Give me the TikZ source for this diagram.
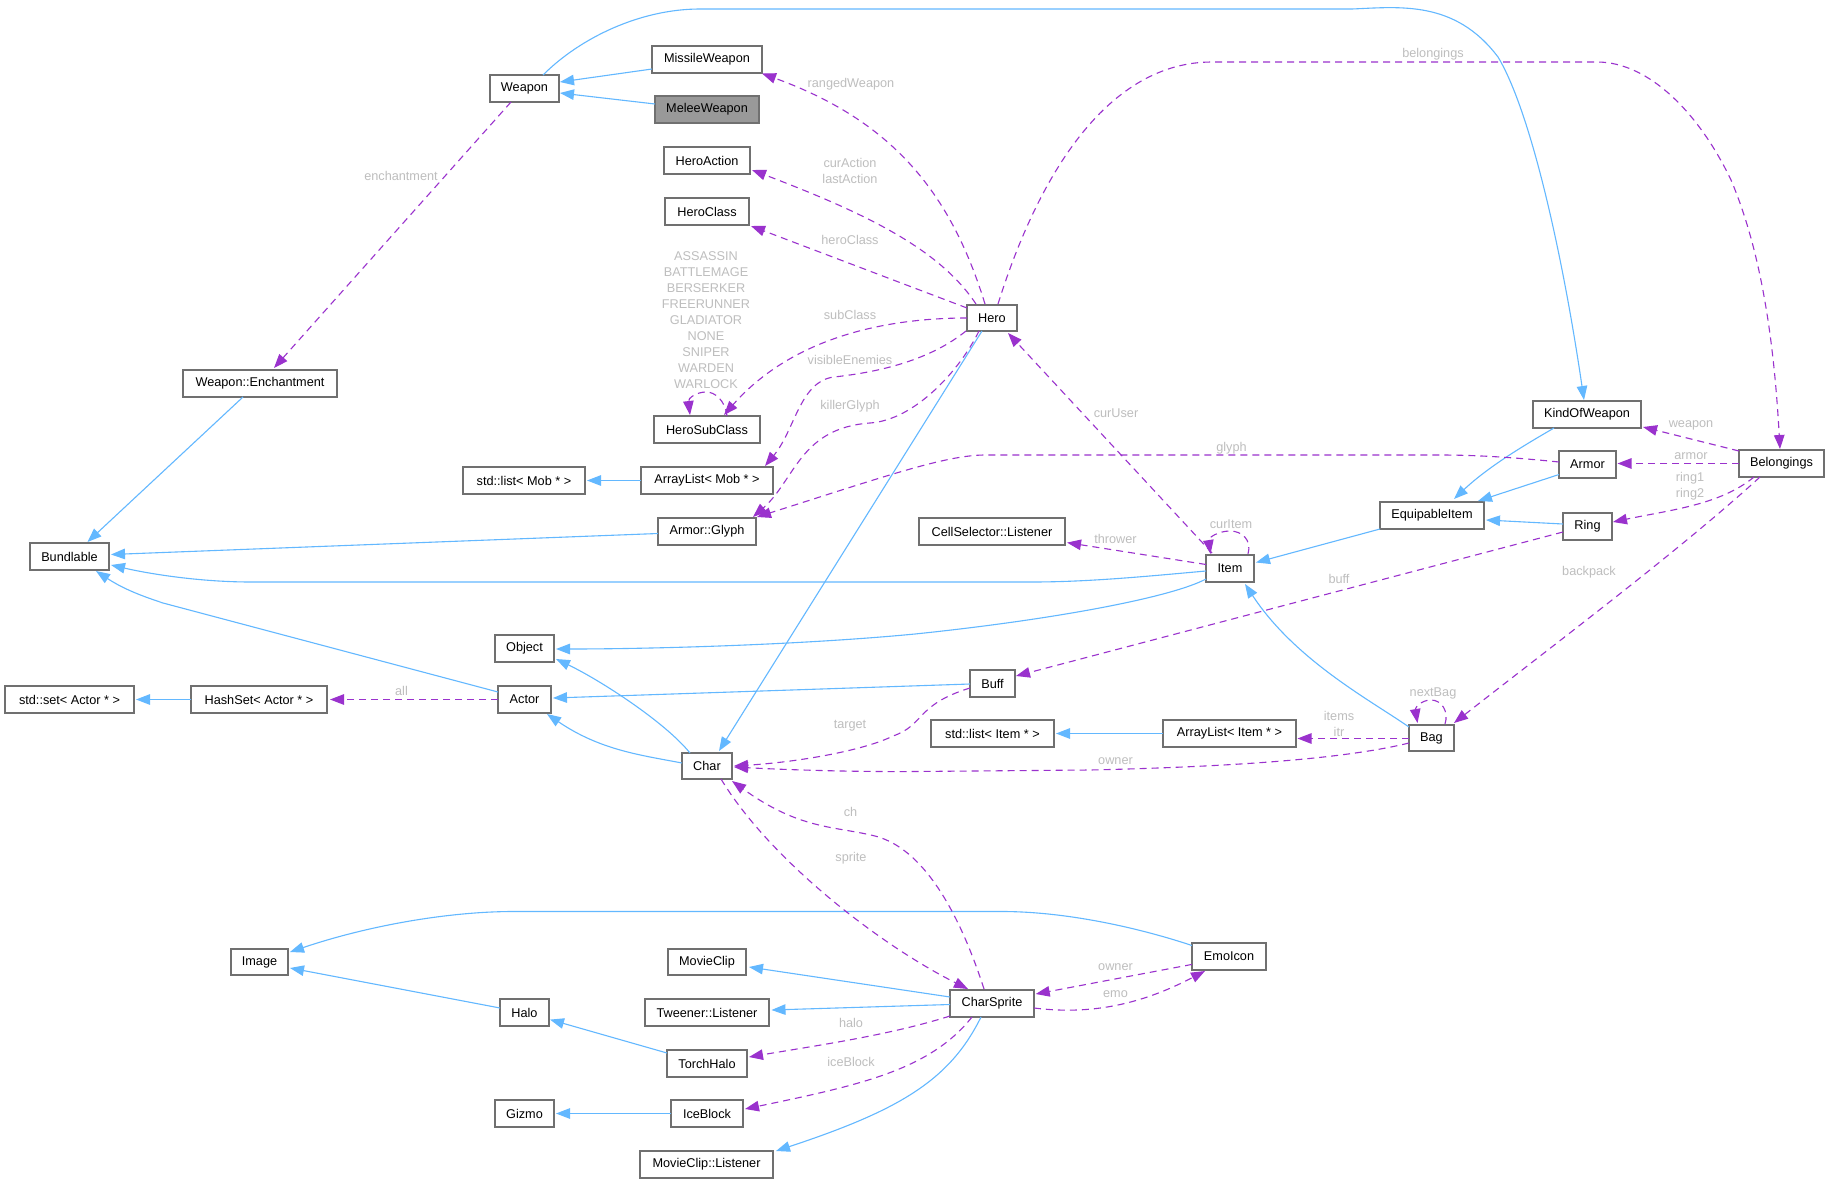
\documentclass[tikz,border=0pt]{standalone}
\usepackage{fontspec}
\setmainfont{Liberation Sans}
\usetikzlibrary{arrows.meta}
\definecolor{inhc}{HTML}{63B8FF}
\definecolor{usec}{HTML}{9A32CD}
\definecolor{edgec}{HTML}{707070}
\definecolor{labc}{HTML}{BEBEBE}
\tikzset{
  box/.style={draw=edgec,line width=1.1pt,fill=white,text=black,inner sep=0pt,outer sep=0pt,font=\fontsize{12.7}{14}\selectfont},
  grayed/.style={fill=black!40},
  inh/.style={draw=inhc,line width=1.1pt,-{Triangle[length=14pt,width=10.5pt]}},
  rel/.style={draw=usec,line width=1.1pt,dash pattern=on 7pt off 5pt,-{Triangle[length=14pt,width=10.5pt,fill=usec]}},
  lab/.style={text=labc,inner sep=0pt,align=center,font=\fontsize{12.7}{16}\selectfont},
}
\newcommand{\cls}[7][]{%
  \pgfmathsetmacro{\cxv}{(#3+#4)/2}\pgfmathsetmacro{\cyv}{(#5+#6)/2}%
  \pgfmathsetmacro{\wv}{#4-#3}\pgfmathsetmacro{\hv}{#6-#5}%
  \node[box,#1,minimum width=\wv pt,minimum height=\hv pt] (#2) at (\cxv,\cyv) {\raisebox{-0.8pt}{#7}};}
\begin{document}
\begin{tikzpicture}[x=1pt,y=-1pt]
\useasboundingbox (0,0) rectangle (1829,1183);
\fill[white] (0,0) rectangle (1829,1183);
% edges are drawn after the nodes are placed, so place nodes first
\cls{weapon}{490}{559}{75}{102}{Weapon}
\cls{missile}{652}{762}{46}{73}{MissileWeapon}
\cls[grayed]{melee}{655}{759}{96}{123}{MeleeWeapon}
\cls{heroaction}{664}{750}{147}{174}{HeroAction}
\cls{heroclass}{665}{749}{198}{225}{HeroClass}
\cls{herosub}{654}{760}{416}{443}{HeroSubClass}
\cls{listmob}{463}{585}{467}{494}{std::list< Mob * >}
\cls{alistmob}{641}{773}{467}{494}{ArrayList< Mob * >}
\cls{glyph}{658}{756}{518}{545}{Armor::Glyph}
\cls{bund}{30}{109}{543}{570}{Bundlable}
\cls{ench}{183}{337}{370}{397}{Weapon::Enchantment}
\cls{hero}{967}{1017}{305}{331}{Hero}
\cls{kow}{1533}{1641}{401}{428}{KindOfWeapon}
\cls{armor}{1559}{1616}{451}{478}{Armor}
\cls{belong}{1739}{1824}{450}{477}{Belongings}
\cls{equip}{1380}{1484}{502}{529}{EquipableItem}
\cls{ring}{1563}{1612}{513}{540}{Ring}
\cls{cell}{919}{1065}{518}{545}{CellSelector::Listener}
\cls{item}{1206}{1254}{555}{582}{Item}
\cls{object}{495}{554}{635}{662}{Object}
\cls{actor}{498}{551}{686}{713}{Actor}
\cls{setactor}{5}{134}{686}{713}{std::set< Actor * >}
\cls{hashset}{191}{327}{686}{713}{HashSet< Actor * >}
\cls{char}{682}{732}{753}{779}{Char}
\cls{image}{231}{288}{949}{975}{Image}
\cls{movieclip}{668}{746}{949}{975}{MovieClip}
\cls{halo}{500}{549}{999}{1026}{Halo}
\cls{tweener}{645}{769}{999}{1026}{Tweener::Listener}
\cls{torch}{667}{747}{1050}{1077}{TorchHalo}
\cls{gizmo}{495}{554}{1100}{1127}{Gizmo}
\cls{ice}{671}{743}{1100}{1127}{IceBlock}
\cls{mcl}{640}{773}{1151}{1178}{MovieClip::Listener}
\cls{buff}{970}{1015}{670}{697}{Buff}
\cls{listitem}{931}{1054}{720}{747}{std::list< Item * >}
\cls{alistitem}{1163}{1296}{720}{747}{ArrayList< Item * >}
\cls{bag}{1409}{1454}{725}{751}{Bag}
\cls{emo}{1192}{1266}{943}{970}{EmoIcon}
\cls{cs}{950}{1034}{990}{1017}{CharSprite}
% inheritance
\draw[inh] ([shift={(53,0)}]weapon.north west) .. controls (580,38) and (640,9) .. (700,9) -- (1352,9) .. controls (1400,7) and (1455,0) .. (1498,57) .. controls (1530,110) and (1562,250) .. ([shift={(51,-1)}]kow.north west);
\draw[inh] ([shift={(0,8)}]melee.north west) -- ([shift={(70,18)}]weapon.north west);
\draw[inh] ([shift={(0,23)}]missile.north west) -- ([shift={(70,7)}]weapon.north west);
\draw[inh] ([shift={(60,27)}]ench.north west) -- ([shift={(57.5,-1)}]bund.north west);
\draw[inh] ([shift={(0,15.5)}]glyph.north west) -- ([shift={(81,11.5)}]bund.north west);
\draw[inh] ([shift={(0,16)}]item.north west) .. controls (1150,576) and (1090,582) .. (1032,582) -- (251,582) .. controls (200,582) and (150,574) .. ([shift={(81,22)}]bund.north west);
\draw[inh] ([shift={(0,6)}]actor.north west) -- (163,603) .. controls (145,597) and (125,590) .. ([shift={(66,28)}]bund.north west);
\draw[inh] ([shift={(0,24)}]item.north west) .. controls (1170,598) and (1050,620) .. (915,634) .. controls (800,645) and (650,649) .. ([shift={(61,14)}]object.north west);
\draw[inh] ([shift={(0,14)}]buff.north west) -- ([shift={(55,12)}]actor.north west);
\draw[inh] ([shift={(8,0)}]char.north west) .. controls (665,722) and (600,680) .. ([shift={(61,24)}]object.north west);
\draw[inh] ([shift={(0,10)}]char.north west) .. controls (640,755) and (600,750) .. ([shift={(49,28)}]actor.north west);
\draw[inh] ([shift={(15,26)}]hero.north west) -- ([shift={(37,-2)}]char.north west);
\draw[inh] ([shift={(0,2)}]bag.north west) .. controls (1370,700) and (1295,660) .. ([shift={(39,29)}]item.north west);
\draw[inh] ([shift={(21,27)}]kow.north west) .. controls (1530,442) and (1490,465) .. ([shift={(74,-3)}]equip.north west);
\draw[inh] ([shift={(0,23.5)}]armor.north west) -- ([shift={(98,-1)}]equip.north west);
\draw[inh] ([shift={(0,11)}]ring.north west) -- ([shift={(106,18)}]equip.north west);
\draw[inh] ([shift={(0,27)}]equip.north west) -- ([shift={(50,7.5)}]item.north west);
\draw[inh] ([shift={(0,13.5)}]alistmob.north west) -- ([shift={(124,13.5)}]listmob.north west);
\draw[inh] ([shift={(0,13.5)}]alistitem.north west) -- ([shift={(125,13.5)}]listitem.north west);
\draw[inh] ([shift={(0,13.5)}]hashset.north west) -- ([shift={(131,13.5)}]setactor.north west);
\draw[inh] ([shift={(0,9)}]halo.north west) -- ([shift={(59,19)}]image.north west);
\draw[inh] ([shift={(0,3)}]torch.north west) -- ([shift={(50,20.6)}]halo.north west);
\draw[inh] ([shift={(0,13.5)}]ice.north west) -- ([shift={(61,13.5)}]gizmo.north west);
\draw[inh] ([shift={(0,2.5)}]emo.north west) .. controls (1130,925) and (1060,911.5) .. (1002,911.5) -- (513.5,911.5) .. controls (450,911.5) and (370,925) .. ([shift={(59,3)}]image.north west);
\draw[inh] ([shift={(0,7)}]cs.north west) -- ([shift={(81,18)}]movieclip.north west);
\draw[inh] ([shift={(0,14.5)}]cs.north west) -- ([shift={(126.5,11)}]tweener.north west);
\draw[inh] ([shift={(31,27)}]cs.north west) .. controls (950,1080) and (900,1110) .. ([shift={(136,0)}]mcl.north west);
% usage
\draw[rel] ([shift={(18,-1)}]hero.north west) .. controls (950,190) and (890,120) .. ([shift={(110,27.5)}]missile.north west);
\draw[rel] ([shift={(9,-1)}]hero.north west) .. controls (940,250) and (870,215) .. ([shift={(88,23)}]heroaction.north west);
\draw[rel] ([shift={(0,3)}]hero.north west) -- ([shift={(86,28)}]heroclass.north west);
\draw[rel] ([shift={(0,13)}]hero.north west) .. controls (880,318) and (790,340) .. ([shift={(70,-1)}]herosub.north west);
\draw[rel] ([shift={(73,0)}]herosub.north west) .. controls (725,400) and (715,392) .. (706,392) .. controls (697,392) and (688,398) .. ([shift={(36,-1)}]herosub.north west);
\draw[rel] ([shift={(-1,26)}]hero.north west) .. controls (930,360) and (880,372) .. (834,377) .. controls (800,381) and (795,430) .. ([shift={(124,-1)}]alistmob.north west);
\draw[rel] ([shift={(12,26)}]hero.north west) .. controls (960,370) and (915,420) .. (870,423) .. controls (800,428) and (795,480) .. ([shift={(95,-1)}]glyph.north west);
\draw[rel] ([shift={(0,11)}]armor.north west) .. controls (1520,458) and (1480,455) .. (1440,455) -- (985,455) .. controls (945,455) and (880,478) .. ([shift={(99,-1)}]glyph.north west);
\draw[rel] ([shift={(31,-1)}]hero.north west) .. controls (1040,170) and (1110,62) .. (1212,62) -- (1597,62) .. controls (1650,62) and (1700,115) .. (1731,180) .. controls (1765,260) and (1775,360) .. ([shift={(41,-1)}]belong.north west);
\draw[rel] ([shift={(6,-2)}]item.north west) -- ([shift={(41,28)}]hero.north west);
\draw[rel] ([shift={(42,-1)}]item.north west) .. controls (1252,540) and (1242,531) .. (1230,531) .. controls (1218,531) and (1208,538) .. ([shift={(4.5,-1)}]item.north west);
\draw[rel] ([shift={(0,9.5)}]item.north west) -- ([shift={(148,24.6)}]cell.north west);
\draw[rel] ([shift={(0,19)}]ring.north west) -- ([shift={(46,6)}]buff.north west);
\draw[rel] ([shift={(0,1)}]belong.north west) -- ([shift={(110,26)}]kow.north west);
\draw[rel] ([shift={(0,13.5)}]belong.north west) -- ([shift={(58.5,12.5)}]armor.north west);
\draw[rel] ([shift={(15,27)}]belong.north west) .. controls (1720,505) and (1670,510) .. ([shift={(50,9)}]ring.north west);
\draw[rel] ([shift={(21,27)}]belong.north west) .. controls (1680,550) and (1560,640) .. ([shift={(45,-2)}]bag.north west);
\draw[rel] ([shift={(36,-1)}]bag.north west) .. controls (1449,712) and (1442,700) .. (1431,700) .. controls (1421,700) and (1415,708) .. ([shift={(8.5,-2)}]bag.north west);
\draw[rel] ([shift={(0,13.5)}]bag.north west) -- ([shift={(134.5,18.5)}]alistitem.north west);
\draw[rel] ([shift={(0,18)}]bag.north west) .. controls (1340,760) and (1220,767) .. (1090,770) -- (915,771.5) .. controls (860,772) and (790,770) .. ([shift={(52,14)}]char.north west);
\draw[rel] ([shift={(0,18)}]buff.north west) .. controls (915,705) and (925,725) .. (893,736) .. controls (865,750) and (800,762) .. ([shift={(52,13)}]char.north west);
\draw[rel] ([shift={(34,-1)}]cs.north west) .. controls (965,930) and (930,850) .. (875,836) .. controls (835,826) and (800,830) .. ([shift={(50,28)}]char.north west);
\draw[rel] ([shift={(39,26)}]char.north west) .. controls (770,860) and (880,945) .. ([shift={(18,-1)}]cs.north west);
\draw[rel] ([shift={(0,21.4)}]emo.north west) -- ([shift={(85.7,4)}]cs.north west);
\draw[rel] ([shift={(84,18)}]cs.north west) .. controls (1090,1015) and (1140,1005) .. ([shift={(13,28)}]emo.north west);
\draw[rel] ([shift={(0,26)}]cs.north west) .. controls (890,1035) and (820,1045) .. ([shift={(82,7)}]torch.north west);
\draw[rel] ([shift={(22,27)}]cs.north west) .. controls (930,1070) and (860,1085) .. ([shift={(74,9)}]ice.north west);
\draw[rel] ([shift={(0,13.5)}]actor.north west) -- ([shift={(139,13.5)}]hashset.north west);
\draw[rel] ([shift={(21,27)}]weapon.north west) -- ([shift={(91,-2)}]ench.north west);
% labels
\node[lab] (l1) at (401,176) {enchantment};
\node[lab] (l2) at (851,84) {rangedWeapon};
\node[lab] (l3) at (850,171) {curAction\\lastAction};
\node[lab] (l4) at (850,240) {heroClass};
\node[lab] (l5) at (706,320) {ASSASSIN\\BATTLEMAGE\\BERSERKER\\FREERUNNER\\GLADIATOR\\NONE\\SNIPER\\WARDEN\\WARLOCK};
\node[lab] (l6) at (850,315) {subClass};
\node[lab] (l7) at (850,360) {visibleEnemies};
\node[lab] (l8) at (850,406) {killerGlyph};
\node[lab] (l9) at (1433,54) {belongings};
\node[lab] (l10) at (1116,413) {curUser};
\node[lab] (l11) at (1231.5,448) {glyph};
\node[lab] (l12) at (1691,425) {weapon};
\node[lab] (l13) at (1691,456) {armor};
\node[lab] (l14) at (1690,486) {ring1\\ring2};
\node[lab] (l15) at (1231,524) {curItem};
\node[lab] (l16) at (1115.5,539) {thrower};
\node[lab] (l17) at (1339,579) {buff};
\node[lab] (l18) at (1589,572) {backpack};
\node[lab] (l19) at (1433,693) {nextBag};
\node[lab] (l20) at (1339,723.5) {items\\itr};
\node[lab] (l21) at (1115.5,761) {owner};
\node[lab] (l22) at (401.5,691) {all};
\node[lab] (l23) at (850,726) {target};
\node[lab] (l24) at (850.5,812) {ch};
\node[lab] (l25) at (851,858) {sprite};
\node[lab] (l26) at (1115.5,967) {owner};
\node[lab] (l27) at (1115.5,994) {emo};
\node[lab] (l28) at (851,1023) {halo};
\node[lab] (l29) at (851,1062) {iceBlock};
\end{tikzpicture}
\end{document}
